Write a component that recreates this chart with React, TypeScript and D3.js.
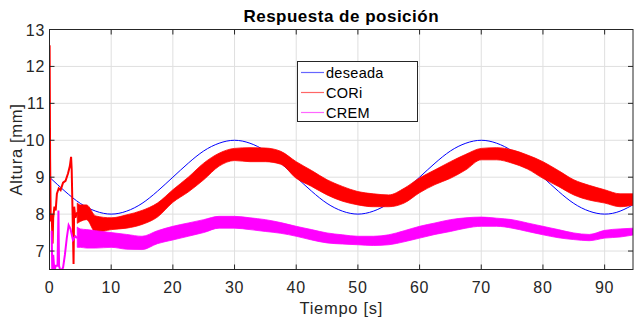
import React from 'react';
import * as d3 from 'd3';

// desired trajectory (read every 2.5 s)
const refTime = [0, 2.5, 5, 7.5, 10, 12.5, 15, 17.5, 20, 22.5, 25, 27.5, 30, 32.5, 35, 37.5, 40, 42.5, 45, 47.5, 50, 52.5, 55, 57.5, 60, 62.5, 65, 67.5, 70, 72.5, 75, 77.5, 80, 82.5, 85, 87.5, 90, 92.5, 95];
const deseada = [9, 8.62, 8.29, 8.08, 8, 8.08, 8.29, 8.62, 9, 9.38, 9.71, 9.92, 10, 9.92, 9.71, 9.38, 9, 8.62, 8.29, 8.08, 8, 8.08, 8.29, 8.62, 9, 9.38, 9.71, 9.92, 10, 9.92, 9.71, 9.38, 9, 8.62, 8.29, 8.08, 8, 8.08, 8.29];

// start-up transients
const coriStartT = [0, 0.02, 0.1, 0.2, 0.35, 0.5, 0.6, 0.8, 1.0, 1.2, 1.5, 1.8, 2.2, 2.6, 3.0, 3.3, 3.5, 3.6, 3.8, 3.9, 4.0, 4.2, 4.5];
const coriStart = [9.0, 12.57, 9.5, 7.8, 8.0, 7.2, 7.9, 8.2, 8.1, 8.55, 8.7, 8.65, 8.85, 8.9, 9.1, 9.3, 9.55, 9.2, 7.5, 6.65, 8.2, 7.9, 8.05];
const cremStartT = [0.35, 0.45, 0.6, 0.8, 1.0, 1.3, 1.45, 1.55, 1.8, 2.2, 2.5, 2.8, 3.1, 3.4, 3.8, 4.2, 4.5];
const cremStart = [7.55, 6.45, 6.9, 6.45, 6.6, 6.6, 8.1, 6.6, 6.45, 6.55, 6.9, 7.35, 7.7, 7.6, 7.3, 7.4, 7.35];

// noisy bands: lower / upper envelope
const bandTime = [4.5, 5, 6, 7.5, 10, 12.5, 15, 17.5, 20, 22.5, 25, 27.5, 30, 32.5, 35, 37.5, 40, 42.5, 45, 47.5, 50, 52.5, 55, 57.5, 60, 62.5, 65, 67.5, 70, 72.5, 75, 77.5, 80, 82.5, 85, 87.5, 90, 92.5, 94.8];
const coriLow = [7.75, 7.8, 7.85, 7.5, 7.58, 7.62, 7.72, 7.92, 8.32, 8.6, 8.93, 9.3, 9.45, 9.42, 9.42, 9.35, 8.97, 8.75, 8.52, 8.35, 8.25, 8.2, 8.2, 8.3, 8.58, 8.8, 8.97, 9.2, 9.47, 9.47, 9.38, 9.22, 8.97, 8.75, 8.52, 8.38, 8.3, 8.2, 8.25];
const coriHigh = [8.3, 8.25, 8.25, 7.95, 7.9, 7.98, 8.1, 8.3, 8.66, 9.0, 9.38, 9.65, 9.78, 9.8, 9.79, 9.7, 9.42, 9.18, 8.93, 8.75, 8.61, 8.55, 8.52, 8.7, 8.98, 9.2, 9.42, 9.62, 9.78, 9.8, 9.74, 9.6, 9.42, 9.18, 8.93, 8.78, 8.66, 8.55, 8.55];
const cremLow = [7.1, 7.1, 7.08, 7.08, 7.1, 7.05, 7.04, 7.2, 7.3, 7.4, 7.5, 7.62, 7.62, 7.58, 7.53, 7.48, 7.4, 7.3, 7.22, 7.19, 7.17, 7.15, 7.17, 7.25, 7.35, 7.45, 7.53, 7.62, 7.67, 7.67, 7.62, 7.53, 7.44, 7.36, 7.31, 7.28, 7.35, 7.38, 7.44];
const cremHigh = [7.65, 7.6, 7.58, 7.55, 7.5, 7.45, 7.4, 7.55, 7.67, 7.76, 7.85, 7.94, 7.94, 7.9, 7.85, 7.77, 7.67, 7.58, 7.49, 7.44, 7.4, 7.4, 7.44, 7.55, 7.67, 7.76, 7.85, 7.9, 7.92, 7.89, 7.85, 7.76, 7.67, 7.58, 7.49, 7.45, 7.56, 7.6, 7.62];

const xTicks = [0, 10, 20, 30, 40, 50, 60, 70, 80, 90];
const yTicks = [7, 8, 9, 10, 11, 12, 13];
const legendItems = [
  { name: 'deseada', color: '#0000ff' },
  { name: 'CORi', color: '#ff0000' },
  { name: 'CREM', color: '#ff00ff' },
];

const W = 634, H = 322;
const L = 49.5, R = 633, T = 29.5, B = 269.5;
const font = '"Liberation Sans", Arial, Helvetica, sans-serif';
const axisColor = '#262626';

export default function App() {
  const x = d3.scaleLinear().domain([0, 94.6]).range([L, R]);
  const y = d3.scaleLinear().domain([6.5, 13]).range([B, T]);

  const line = d3.line<[number, number]>().x(d => x(d[0])).y(d => y(d[1]));
  const smooth = d3.line<[number, number]>().x(d => x(d[0])).y(d => y(d[1])).curve(d3.curveNatural);
  const band = (lo: number[], hi: number[]) =>
    d3.area<number>()
      .x(t => x(t))
      .y0((_, i) => y(lo[i]))
      .y1((_, i) => y(hi[i]))
      .curve(d3.curveMonotoneX)(bandTime) || '';

  const coriBand = band(coriLow, coriHigh);
  const cremBand = band(cremLow, cremHigh);

  const desPath = smooth(refTime.map((t, i) => [t, deseada[i]] as [number, number])) || '';
  const coriStartPath = line(coriStartT.map((t, i) => [t, coriStart[i]] as [number, number])) || '';
  const cremStartPath = line(cremStartT.map((t, i) => [t, cremStart[i]] as [number, number])) || '';

  return (
    <svg width={W} height={H} style={{ position: 'absolute', left: 0, top: 0, background: '#fff' }}>
      <defs>
        <clipPath id="plot">
          <rect x={L} y={T} width={R - L} height={B - T} />
        </clipPath>
      </defs>
      <rect x={0} y={0} width={W} height={H} fill="#fff" />

      {/* grid */}
      {xTicks.map(t => (
        <line key={'gx' + t} x1={x(t)} x2={x(t)} y1={T} y2={B} stroke="#dfdfdf" strokeWidth={1} />
      ))}
      {yTicks.map(t => (
        <line key={'gy' + t} x1={L} x2={R} y1={y(t)} y2={y(t)} stroke="#dfdfdf" strokeWidth={1} />
      ))}

      <g clipPath="url(#plot)">
        <path d={desPath} fill="none" stroke="#0000ff" strokeWidth={1} />
        <path d={coriBand} fill="#ff0000" stroke="#ff0000" strokeWidth={0.8} />
        <path d={coriStartPath} fill="none" stroke="#ff0000" strokeWidth={2} />
        <path d={cremBand} fill="#ff00ff" stroke="#ff00ff" strokeWidth={0.8} />
        <path d={cremStartPath} fill="none" stroke="#ff00ff" strokeWidth={2} />
      </g>

      {/* axes box */}
      <rect x={L} y={T} width={R - L} height={B - T} fill="none" stroke={axisColor} strokeWidth={1} />
      {xTicks.map(t => (
        <g key={'tx' + t}>
          <line x1={x(t)} x2={x(t)} y1={B} y2={B - 5} stroke={axisColor} />
          <line x1={x(t)} x2={x(t)} y1={T} y2={T + 5} stroke={axisColor} />
          <text x={x(t)} y={292.5} textAnchor="middle" fontFamily={font} fontSize={16} letterSpacing={0.7} fill={axisColor}>{t}</text>
        </g>
      ))}
      {yTicks.map(t => (
        <g key={'ty' + t}>
          <line x1={L} x2={L + 5} y1={y(t)} y2={y(t)} stroke={axisColor} />
          <line x1={R} x2={R - 5} y1={y(t)} y2={y(t)} stroke={axisColor} />
          <text x={45} y={y(t) + 6} textAnchor="end" fontFamily={font} fontSize={16} letterSpacing={0.7} fill={axisColor}>{t}</text>
        </g>
      ))}

      {/* labels */}
      <text x={(L + R) / 2} y={22} textAnchor="middle" fontFamily={font} fontSize={17} letterSpacing={0.5} fontWeight="bold" fill="#000">Respuesta de posición</text>
      <text x={(L + R) / 2} y={313.5} textAnchor="middle" fontFamily={font} fontSize={16.5} letterSpacing={0.7} fill={axisColor}>Tiempo [s]</text>
      <text transform={`translate(21.5, ${(T + B) / 2}) rotate(-90)`} textAnchor="middle" fontFamily={font} fontSize={16.5} letterSpacing={0.7} fill={axisColor}>Altura [mm]</text>

      {/* legend */}
      <g>
        <rect x={297.5} y={61.5} width={120} height={60} fill="#fff" stroke={axisColor} strokeWidth={1} />
        {legendItems.map((d, i) => (
          <g key={d.name}>
            <line x1={301} x2={324} y1={72.5 + i * 20} y2={72.5 + i * 20} stroke={d.color} strokeOpacity={0.6} strokeWidth={1.2} />
            <text x={326} y={78 + i * 20} fontFamily={font} fontSize={14.5} letterSpacing={0.3} fill="#000">{d.name}</text>
          </g>
        ))}
      </g>
    </svg>
  );
}
